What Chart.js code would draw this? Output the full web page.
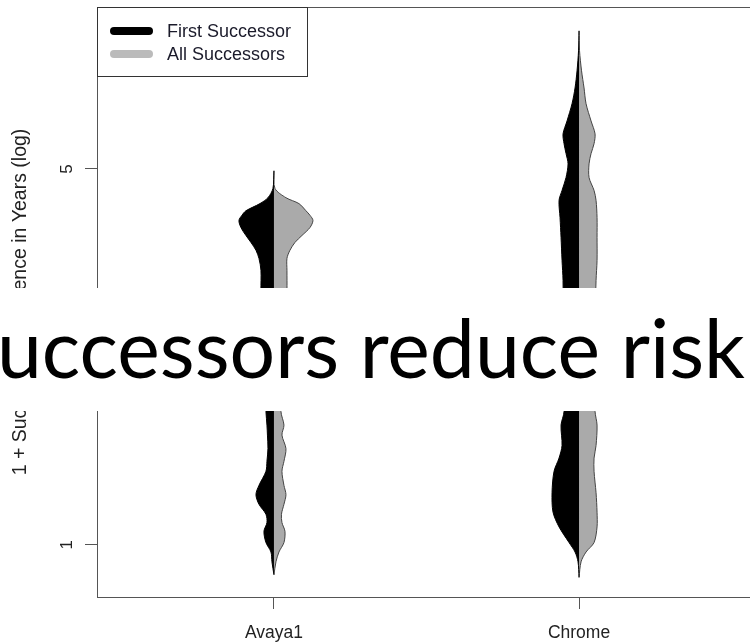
<!DOCTYPE html>
<html lang="en">
  <head>
    <meta charset="UTF-8" />
    <title>Successor experience beanplot</title>
    <script src="https://cdn.jsdelivr.net/npm/chart.js"></script>
    <style>
      body { margin: 0; width: 750px; height: 644px; overflow: hidden; background: #fff; position: relative; }
      #band { position: absolute; left: 0; top: 288px; width: 750px; height: 123px; background: #fff; overflow: hidden; }
      #band span { position: absolute; right: 5px; top: 11px; font-family: Lato, sans-serif; font-size: 80.5px; line-height: 1.2; white-space: nowrap; color: #000; }
    </style>
  </head>
  <body>
    <canvas id="beanChart" width="780" height="644"></canvas>
    <div id="band"><span>Successors reduce risk</span></div>

    <script>
      const categories = ['Avaya1', 'Chrome'];
      const seriesNames = ['First Successor', 'All Successors'];
      const seriesColors = ['#000000', '#aaaaaa'];
      const yTicks = [1, 5];

      // 1 + years, read top to bottom, and half-widths (density) of each side
      const avayaLevels = [4.96, 4.6, 4.42, 4.31, 4.18, 4.1, 4.01, 3.89, 3.76, 3.65, 3.53, 3.41, 3.24, 2.97, 2.62, 2.3, 2.02,
        1.77, 1.67, 1.6, 1.51, 1.43, 1.37, 1.29, 1.24, 1.19, 1.14, 1.1, 1.06, 1.01, 0.97, 0.93, 0.88];
      const avayaFirst = [0, 1, 6, 14, 28, 32, 35, 33, 28, 23, 18, 15, 13, 13, 12, 10, 9,
        8, 7, 6.5, 6, 7, 8, 15, 18, 15, 8, 7, 10, 8, 3, 2, 0];
      const avayaAll = [0, 1, 12, 25, 32, 36, 39, 36, 28, 21, 16, 13, 13, 13, 12, 10, 9,
        7, 10, 8, 12, 10, 8, 10, 12, 10, 7.5, 8, 11, 10, 5, 2, 0];

      const chromeLevels = [9.03, 8.29, 7.61, 7.07, 6.61, 6.14, 5.81, 5.57, 5.34, 5.11, 4.82, 4.56, 4.37, 4.06, 3.73, 3.38, 3.1,
        2.62, 2.3, 2.02, 1.77, 1.67, 1.53, 1.45, 1.37, 1.25, 1.15, 1.08, 1.01, 0.97, 0.93, 0.87];
      const chromeFirst = [0, 0.5, 2, 4, 7, 12, 16, 15, 13, 11, 13, 17, 20, 19, 18, 17, 16,
        16, 17, 17, 15, 18, 17, 20, 25, 27, 26, 20, 10, 4, 1, 0];
      const chromeAll = [0, 0.5, 2.5, 5, 7, 12, 16, 15, 12, 10, 10, 15, 17, 18, 18, 18, 17,
        16, 16, 16, 16, 18, 17, 15, 15, 17, 18, 18, 15, 7, 2, 0];

      const beanScale = 1 / 305; // density unit -> category units

      function halfBean(pos, levels, widths, side) {
        return levels.map((v, i) => ({ x: pos + side * widths[i] * beanScale, y: v }));
      }

      function beanSet(data, i) {
        return {
          label: seriesNames[i],
          data: data,
          backgroundColor: seriesColors[i],
          borderColor: i === 0 ? '#000' : '#444',
          borderWidth: 1,
          pointRadius: 0,
          tension: 0.3,
          fill: 'shape',
        };
      }

      const boxPlugin = {
        id: 'box',
        afterDraw(chart) {
          const { ctx, chartArea: a } = chart;
          ctx.save();
          ctx.strokeStyle = '#555';
          ctx.lineWidth = 1;
          ctx.strokeRect(a.left + 0.5, a.top + 0.5, a.right - a.left, a.bottom - a.top);

          // legend, top left inside the box
          const lx = a.left, ly = a.top;
          ctx.fillStyle = '#fff';
          ctx.fillRect(lx, ly, 210, 69);
          ctx.strokeStyle = '#333';
          ctx.strokeRect(lx + 0.5, ly + 0.5, 210, 69);
          ctx.font = '18px "Liberation Sans", Arial, sans-serif';
          ctx.textBaseline = 'middle';
          seriesNames.forEach((name, i) => {
            const y = ly + 24 + i * 23;
            ctx.strokeStyle = i === 0 ? '#000' : '#bbbbbb';
            ctx.lineWidth = 8;
            ctx.lineCap = 'round';
            ctx.beginPath();
            ctx.moveTo(lx + 17, y);
            ctx.lineTo(lx + 52, y);
            ctx.stroke();
            ctx.fillStyle = '#1a1a2a';
            ctx.fillText(name, lx + 70, y + 1);
          });
          ctx.restore();
        },
      };

      Chart.defaults.font.family = '"Liberation Sans", Arial, sans-serif';
      Chart.defaults.color = '#222';

      const ctx = document.getElementById('beanChart').getContext('2d');
      const beanChart = new Chart(ctx, {
        type: 'line',
        data: {
          datasets: [
            beanSet(halfBean(1, avayaLevels, avayaFirst, -1), 0),
            beanSet(halfBean(1, avayaLevels, avayaAll, 1), 1),
            beanSet(halfBean(2, chromeLevels, chromeFirst, -1), 0),
            beanSet(halfBean(2, chromeLevels, chromeAll, 1), 1),
          ],
        },
        options: {
          responsive: false,
          animation: false,
          events: [],
          layout: { padding: { top: 7, right: 24, left: 0, bottom: 0 } },
          plugins: { legend: { display: false }, tooltip: { enabled: false } },
          scales: {
            x: {
              type: 'linear',
              min: 0.42,
              max: 2.58,
              afterBuildTicks: (s) => { s.ticks = categories.map((c, i) => ({ value: i + 1 })); },
              afterFit: (s) => { s.height = 47; s.paddingLeft = 0; s.paddingRight = 0; },
              ticks: {
                callback: (v) => categories[v - 1],
                font: { size: 17.5 },
                padding: 14,
                maxRotation: 0,
              },
              grid: { drawOnChartArea: false, tickLength: 12, tickColor: '#555' },
              border: { color: '#444' },
            },
            y: {
              type: 'logarithmic',
              min: 0.8,
              max: 10,
              afterBuildTicks: (s) => { s.ticks = yTicks.map((v) => ({ value: v })); },
              afterFit: (s) => { s.width = 97; s.paddingTop = 0; s.paddingBottom = 0; },
              ticks: {
                callback: (v) => String(v),
                font: { size: 17 },
                minRotation: 90,
                maxRotation: 90,
                crossAlign: 'center',
                padding: 13,
              },
              grid: { drawOnChartArea: false, tickLength: 12, tickColor: '#555' },
              border: { color: '#222' },
              title: {
                display: true,
                text: '1 + Successor Experience in Years (log)',
                font: { size: 19.5 },
                padding: { top: 9, bottom: 0 },
              },
            },
          },
        },
        plugins: [boxPlugin],
      });
    </script>
  </body>
</html>
